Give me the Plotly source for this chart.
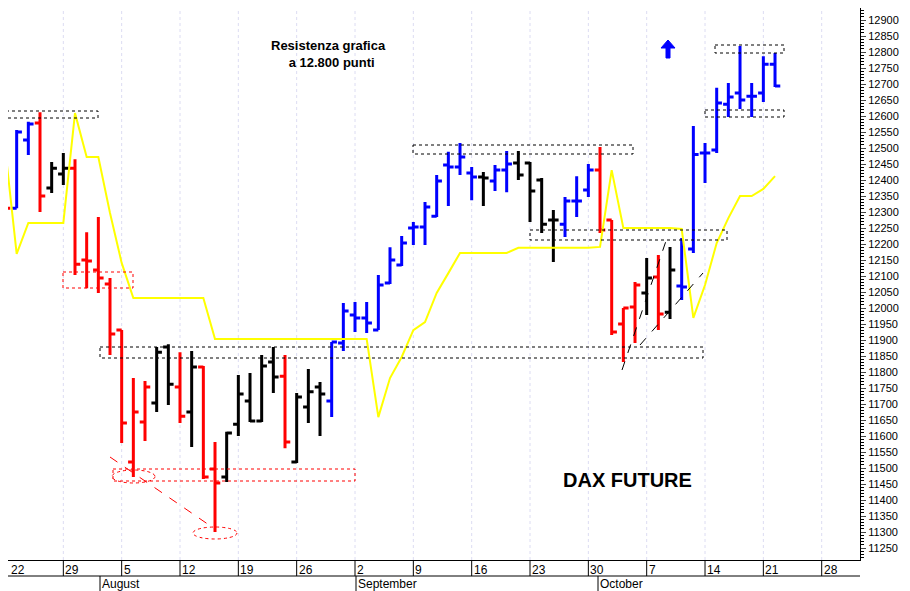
import plotly.graph_objects as go

# trading-day index 0 = Mon 22 Jul 2019
day = list(range(67))
opens = [12259,12312,12525,12578,12375,12419,12437,12150,12119,12075,11931,11519,11644,11703,11878,11753,11675,11816,11497,11472,
         11637,11709,11647,11831,11787,11519,11691,11753,11709,11891,11978,11969,11931,12078,12134,12250,12253,12287,12447,12441,
         12422,12409,12397,12431,12453,12453,12400,12275,12262,12334,12369,12431,12275,11950,12003,12047,12097,11987,12069,12184,
         12484,12494,12637,12672,12662,12672,12762]
highs = [12359,12556,12582,12612,12456,12484,12465,12237,12284,12094,11931,11781,11772,11878,11887,11862,11866,11819,11581,11613,
         11791,11797,11853,11878,11853,11734,11809,11769,11894,12016,12019,12019,12103,12190,12225,12269,12331,12416,12488,12516,
         12441,12425,12447,12491,12491,12456,12406,12306,12347,12412,12450,12503,12275,12000,12081,12156,12166,12191,12219,12569,
         12516,12688,12703,12819,12703,12787,12797]
lows = [12237,12312,12478,12300,12359,12384,12103,12062,12047,11853,11578,11472,11584,11675,11697,11641,11566,11466,11300,11456,
        11600,11644,11644,11734,11562,11516,11641,11600,11659,11866,11925,11922,11931,12075,12131,12197,12197,12284,12319,12416,
        12337,12319,12366,12362,12400,12269,12234,12144,12222,12284,12347,12234,11916,11831,11891,11978,11931,11966,12025,12172,
        12391,12484,12597,12622,12597,12644,12691]
closes = [12312,12550,12575,12350,12437,12437,12137,12147,12094,11919,11641,11675,11753,11862,11762,11662,11816,11472,11453,11609,
          11731,11647,11819,11784,11581,11722,11738,11731,11894,11991,11969,11953,12072,12150,12203,12253,12316,12397,12441,12472,
          12409,12406,12431,12450,12416,12366,12262,12275,12334,12334,12431,12244,11925,12000,12072,12094,11981,12119,12066,12480,
          12484,12641,12659,12650,12662,12762,12694]
trend = list("RBBRKKRRRRRRRKKRKRRKKKKKRKKKBBBBBBBBBBBBBKBBKKKKBBBRRRRKRKBBBBBBBBB")
yellow = [12503,12169,12266,12266,12266,12266,12609,12472,12472,12297,12141,12031,12031,12031,12031,12031,12031,12031,11903,11903,
          11903,11903,11903,11903,11903,11903,11903,11903,11903,11903,11903,11903,11659,11781,11847,11931,11956,12047,12109,12172,
          12172,12172,12172,12172,12188,12188,12188,12188,12188,12188,12188,12191,12431,12250,12250,12250,12250,12250,12247,11969,
          12072,12203,12281,12350,12350,12372,12412]
day_labels = ["22","29","5","12","19","26","2","9","16","23","30","7","14","21","28"]
label_days = [0,5,10,15,20,25,30,35,40,45,50,55,60,65,70]
months = ["August","September","October"]
colors = {"R":"#ff0000","B":"#0000ff","K":"#000000"}

def X(px): return (px-5)/11.667
def Y(py): return 12900-(py-20)*3.125

OFF = 8  # page body margin
PH = 560 - OFF

fig = go.Figure()
fig.add_trace(go.Scatter(x=day, y=yellow, mode="lines", line=dict(color="#ffff00", width=2), hoverinfo="skip"))
for k, c in colors.items():
    idx = [i for i in day if trend[i] == k]
    fig.add_trace(go.Ohlc(x=[day[i] for i in idx], open=[opens[i] for i in idx], high=[highs[i] for i in idx],
                          low=[lows[i] for i in idx], close=[closes[i] for i in idx], tickwidth=0.45,
                          increasing=dict(line=dict(color=c, width=3)), decreasing=dict(line=dict(color=c, width=3))))

shapes = []
def rect(x0, y0, x1, y1, col="black"):
    shapes.append(dict(type="rect", x0=X(x0), x1=X(x1), y0=Y(y0), y1=Y(y1), line=dict(color=col, width=1, dash="dot")))
def line(x0, y0, x1, y1, col="black"):
    shapes.append(dict(type="line", x0=X(x0), x1=X(x1), y0=Y(y0), y1=Y(y1), line=dict(color=col, width=1, dash="dash")))
rect(0,111,98,118); rect(63,272,133,288,"red"); rect(100,347,703,358); rect(413,145,633,154)
rect(530,230,727,240); rect(715,45,784,53); rect(705,110,784,117); rect(113,469,355,481,"red")
shapes.append(dict(type="circle", x0=X(112), x1=X(155), y0=Y(483), y1=Y(470), line=dict(color="red", width=1, dash="dot")))
shapes.append(dict(type="circle", x0=X(193), x1=X(237), y0=Y(539), y1=Y(527), line=dict(color="red", width=1, dash="dot")))
line(110,457,212,527,"red")
line(622,370,667,238); line(640,345,703,273)
# blue up arrow
pts = [(666,58),(666,48),(661,48),(668,40),(675,48),(670,48),(670,58)]
shapes.append(dict(type="path", path="M " + " L ".join(f"{X(a)},{Y(b)}" for a, b in pts) + " Z",
                   fillcolor="#0000ff", line=dict(color="#0000ff", width=1)))
# weekly grid
for d in label_days:
    shapes.append(dict(type="line", xref="x", yref="paper", x0=d, x1=d, y0=0, y1=1, layer="below",
                       line=dict(color="#dcdcf2", width=1, dash="3px,3px")))
    shapes.append(dict(type="line", xref="x", yref="paper", x0=d, x1=d, y0=0, y1=-16/PH, line=dict(color="black", width=1)))
shapes.append(dict(type="line", xref="paper", yref="paper", x0=0, x1=1, y0=-16/PH, y1=-16/PH, line=dict(color="black", width=1)))
for px in [100, 356, 598]:
    shapes.append(dict(type="line", xref="x", yref="paper", x0=X(px), x1=X(px), y0=-16/PH, y1=-31/PH, line=dict(color="black", width=1)))

ann = []
for d, t in zip(label_days, day_labels):
    if d == 0:
        ann.append(dict(x=0, y=-1/PH, xref="paper", yref="paper", text=t, showarrow=False, xanchor="left", yanchor="top",
                        xshift=1, font=dict(size=12, color="black")))
    else:
        ann.append(dict(x=d, y=-1/PH, xref="x", yref="paper", text=t, showarrow=False, xanchor="left", yanchor="top",
                        xshift=0, font=dict(size=12, color="black")))
for px, t in zip([100, 356, 598], months):
    ann.append(dict(x=X(px), y=-15/PH, xref="x", yref="paper", text=t, showarrow=False, xanchor="left", yanchor="top",
                    xshift=0, font=dict(size=12, color="black")))
ann.append(dict(x=X(328), y=Y(54), text="<b>Resistenza grafica<br>  a 12.800 punti</b>", showarrow=False,
                font=dict(size=13, color="black", family="Liberation Sans")))
ann.append(dict(x=X(627), y=Y(480), text="<b>DAX FUTURE</b>", showarrow=False, font=dict(size=20, color="black", family="Liberation Sans")))

fig.update_layout(width=910-OFF, height=591-OFF, margin=dict(l=0, r=50, t=0, b=31), plot_bgcolor="white", paper_bgcolor="white",
                  showlegend=False, shapes=shapes, annotations=ann, font=dict(family="Liberation Sans", size=12, color="black"),
                  xaxis=dict(range=[X(OFF), X(860)], showgrid=False, showticklabels=False, ticks="", rangeslider=dict(visible=False),
                             showline=True, linecolor="black", zeroline=False),
                  yaxis=dict(range=[Y(560), Y(OFF)], side="right", dtick=50, tick0=11200, ticks="outside", ticklen=5,
                             showgrid=False, showline=True, linecolor="black", zeroline=False, tickfont=dict(size=11),
                             minor=dict(dtick=10, ticks="outside", ticklen=3, tickcolor="black"),
                             tickformat="d", mirror=False))
fig.write_html("out.html")
